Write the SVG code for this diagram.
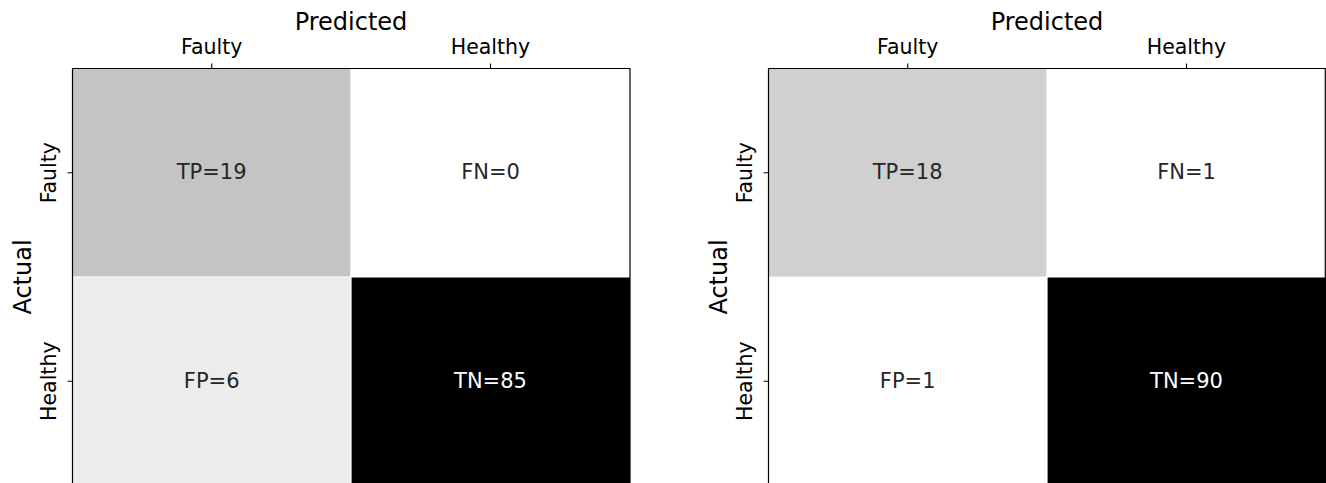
<svg xmlns="http://www.w3.org/2000/svg" width="1326" height="483" viewBox="0 0 1326 483">
<style>
.lbl{font-family:"DejaVu Sans",sans-serif;font-size:24px;fill:#000}
.tick{font-family:"DejaVu Sans",sans-serif;font-size:20.5px;fill:#000}
.ann{font-family:"DejaVu Sans",sans-serif;font-size:21px;text-anchor:middle}
.dk{fill:#262626}
.wt{fill:#ffffff}
.grid{stroke:#ffffff;stroke-width:1.2;fill:none}
.spine{stroke:#000;stroke-width:1.2;fill:none}
.tk{stroke:#000;stroke-width:1.1}
</style>
<rect width="1326" height="483" fill="#fff"/>
<g id="matrix-left">
  <g id="left-TP"><rect x="72.5" y="68.5" width="278.5" height="208.5" fill="#c4c4c4"/><text class="ann dk" x="211.7" y="179.2">TP=19</text></g>
  <g id="left-FN"><rect x="351" y="68.5" width="279" height="208.5" fill="#ffffff"/><text class="ann dk" x="490.5" y="179.2">FN=0</text></g>
  <g id="left-FP"><rect x="72.5" y="277" width="278.5" height="210" fill="#ececec"/><text class="ann dk" x="211.7" y="387.5">FP=6</text></g>
  <g id="left-TN"><rect x="351" y="277" width="279" height="210" fill="#000000"/><text class="ann wt" x="490.5" y="387.5">TN=85</text></g>
  <g id="left-axes">
    <path class="grid" d="M351 68.5V487M72.5 277H630"/>
    <path class="spine" d="M72.5 487V68.5H630V487"/>
    <path class="tk" d="M211.7 63.5V68.5M490.5 63.5V68.5M67.5 172.7H72.5M67.5 381.2H72.5"/>
    <text class="lbl" x="351" y="30" text-anchor="middle">Predicted</text>
    <text class="tick" x="211.7" y="53.5" text-anchor="middle">Faulty</text>
    <text class="tick" x="490.5" y="53.5" text-anchor="middle">Healthy</text>
    <text class="lbl" transform="translate(31 277) rotate(-90)" text-anchor="middle">Actual</text>
    <text class="tick" transform="translate(56 172.7) rotate(-90)" text-anchor="middle">Faulty</text>
    <text class="tick" transform="translate(56 381.2) rotate(-90)" text-anchor="middle">Healthy</text>
  </g>
</g>
<g id="matrix-right" transform="translate(696 0)">
  <g id="right-TP"><rect x="72.5" y="68.5" width="278.5" height="208.5" fill="#d0d0d0"/><text class="ann dk" x="211.7" y="179.2">TP=18</text></g>
  <g id="right-FN"><rect x="351" y="68.5" width="279" height="208.5" fill="#ffffff"/><text class="ann dk" x="490.5" y="179.2">FN=1</text></g>
  <g id="right-FP"><rect x="72.5" y="277" width="278.5" height="210" fill="#ffffff"/><text class="ann dk" x="211.7" y="387.5">FP=1</text></g>
  <g id="right-TN"><rect x="351" y="277" width="279" height="210" fill="#000000"/><text class="ann wt" x="490.5" y="387.5">TN=90</text></g>
  <g id="right-axes">
    <path class="grid" d="M351 68.5V487M72.5 277H630"/>
    <path class="spine" d="M72.5 487V68.5H629.3V487"/>
    <path class="tk" d="M211.7 63.5V68.5M490.5 63.5V68.5M67.5 172.7H72.5M67.5 381.2H72.5"/>
    <text class="lbl" x="351" y="30" text-anchor="middle">Predicted</text>
    <text class="tick" x="211.7" y="53.5" text-anchor="middle">Faulty</text>
    <text class="tick" x="490.5" y="53.5" text-anchor="middle">Healthy</text>
    <text class="lbl" transform="translate(31 277) rotate(-90)" text-anchor="middle">Actual</text>
    <text class="tick" transform="translate(56 172.7) rotate(-90)" text-anchor="middle">Faulty</text>
    <text class="tick" transform="translate(56 381.2) rotate(-90)" text-anchor="middle">Healthy</text>
  </g>
</g>
</svg>
